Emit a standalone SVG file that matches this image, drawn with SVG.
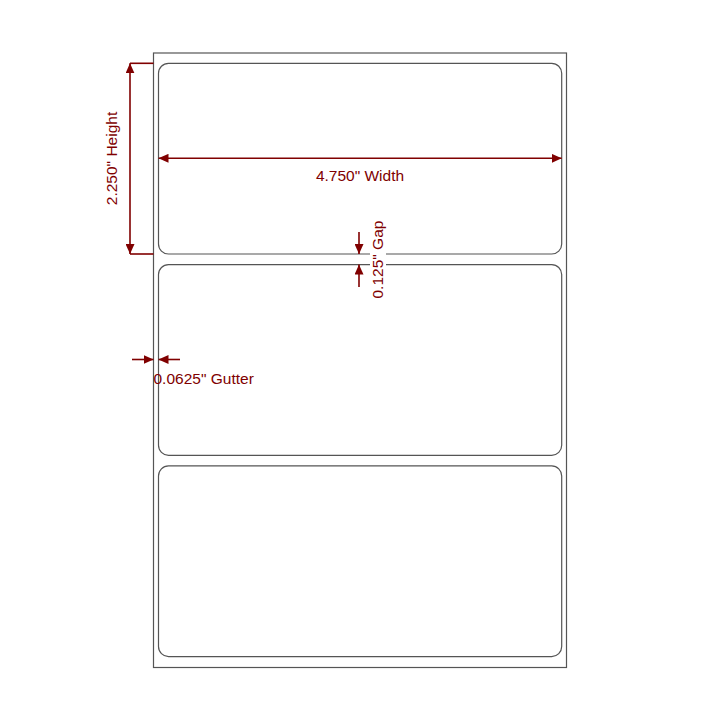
<svg xmlns="http://www.w3.org/2000/svg" width="720" height="720" viewBox="0 0 720 720">
<style>
.sheet{fill:#fff;stroke:#555;stroke-width:1.2}
.label{fill:#fff;stroke:#555;stroke-width:1.2}
.dim{stroke:#800000;stroke-width:1.6;fill:none}
.txt{font-family:"Liberation Sans",Arial,sans-serif;font-size:15.5px;fill:#800000}
</style>
<defs>
<marker id="ah" markerUnits="userSpaceOnUse" markerWidth="10" markerHeight="9" viewBox="0 0 10 9" refX="10" refY="4.5" orient="auto-start-reverse">
<path d="M0,0 L10,4.5 L0,9 Z" fill="#800000"/>
</marker>
</defs>
<rect width="720" height="720" fill="#fff"/>
<g id="sheet"><rect class="sheet" x="153.5" y="53" width="413" height="614.5"/></g>
<g id="label1"><rect class="label" x="158.5" y="63.3" width="403.2" height="190.7" rx="10" ry="10"/></g>
<g id="label2"><rect class="label" x="158.5" y="264.6" width="403.2" height="190.7" rx="10" ry="10"/></g>
<g id="label3"><rect class="label" x="158.5" y="465.9" width="403.2" height="190.7" rx="10" ry="10"/></g>
<g id="connectors">
<line class="dim" x1="130" y1="63.3" x2="153.5" y2="63.3"/>
<line class="dim" x1="130" y1="254" x2="153.5" y2="254"/>
<line class="dim" x1="130" y1="63.3" x2="130" y2="254" marker-start="url(#ah)" marker-end="url(#ah)"/>
<line class="dim" x1="158.5" y1="158.3" x2="561.7" y2="158.3" marker-start="url(#ah)" marker-end="url(#ah)"/>
<line class="dim" x1="359" y1="232" x2="359" y2="254" marker-end="url(#ah)"/>
<line class="dim" x1="359" y1="287" x2="359" y2="264.6" marker-end="url(#ah)"/>
<line class="dim" x1="132" y1="359.5" x2="153.5" y2="359.5" marker-end="url(#ah)"/>
<line class="dim" x1="180" y1="359.5" x2="158.5" y2="359.5" marker-end="url(#ah)"/>
</g>
<g id="texts">
<text class="txt" x="360" y="180.5" text-anchor="middle">4.750" Width</text>
<text class="txt" transform="translate(117,158.5) rotate(-90)" text-anchor="middle">2.250" Height</text>
<rect x="370" y="221" width="16" height="78" fill="#fff"/>
<text class="txt" transform="translate(383,298.5) rotate(-90)">0.125" Gap</text>
<text class="txt" x="153.5" y="383.5">0.0625" Gutter</text>
</g>
</svg>
